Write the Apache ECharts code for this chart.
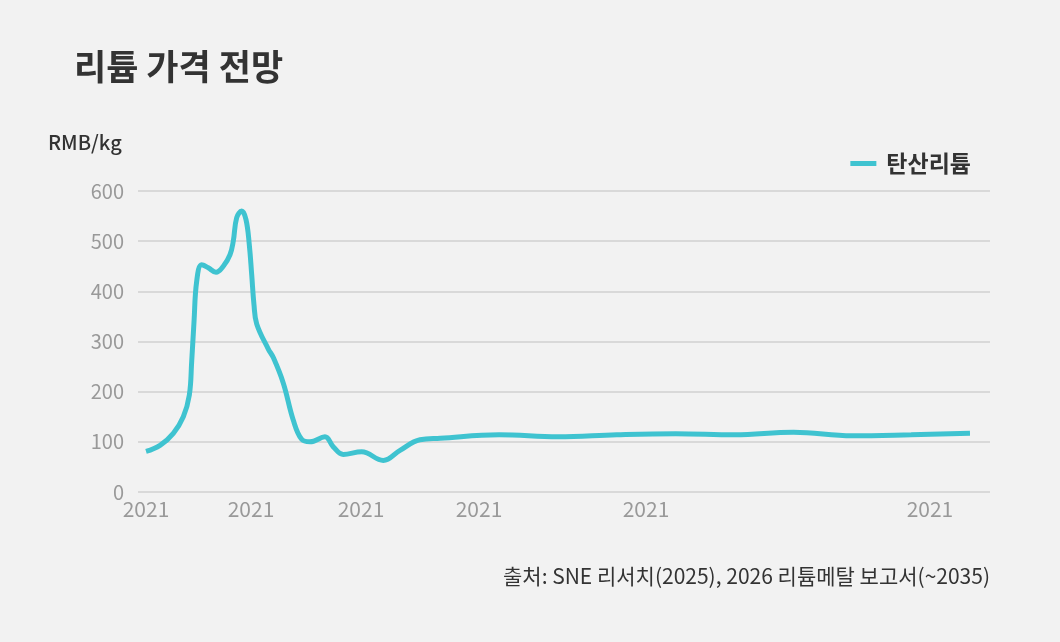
<!DOCTYPE html>
<html>
<head>
<meta charset="utf-8">
<script src="https://cdn.jsdelivr.net/npm/echarts@6/dist/echarts.min.js"></script>
<style>
  html, body { margin: 0; padding: 0; background: #f2f2f2; }
  #chart { width: 1060px; height: 642px; }
</style>
</head>
<body>
<div id="chart"></div>
<script>
// 연도(소수) 기준 x 값
const years = [
  2021.0, 2021.238, 2021.464, 2021.634, 2021.736, 2021.776, 2021.816, 2021.861,
  2021.946, 2022.058, 2022.189, 2022.313, 2022.427, 2022.483, 2022.541, 2022.626,
  2022.699, 2022.755, 2022.796, 2022.835, 2022.881, 2023.078, 2023.163, 2023.333,
  2023.503, 2023.645, 2023.786, 2024.041, 2024.182, 2024.352, 2024.665, 2025.032,
  2025.316, 2025.655, 2026.0, 2027.0, 2028.0, 2029.0, 2030.0, 2031.0,
  2032.0, 2033.0, 2034.0, 2035.0
];
const lithiumCarbonate = [
  81, 93, 117, 150, 193, 260, 340, 420,
  453, 447, 438, 450, 473, 500, 547, 560,
  543, 493, 433, 373, 335, 285, 268, 217,
  143, 105, 100, 110, 90, 75, 80, 63,
  83, 104, 107, 114, 110, 114, 116, 114,
  119, 112, 114, 117
];
// x축 라벨 위치 (원본은 모두 2021로 표시됨)
const xTickPositions = [2021, 2022.784, 2024.653, 2026.658, 2029.495, 2034.32];
const xTickLabel = '2021';

const FONT = '"Noto Sans CJK KR", "Noto Sans", sans-serif';
const chart = echarts.init(document.getElementById('chart'));

chart.setOption({
  backgroundColor: '#f2f2f2',
  textStyle: { fontFamily: FONT },
  title: {
    text: '리튬 가격 전망',
    left: 69,
    top: 44,
    textStyle: { fontFamily: FONT, fontSize: 35, fontWeight: 'bold', color: '#333' }
  },
  graphic: [
    {
      type: 'text',
      left: 48,
      top: 132,
      style: { text: 'RMB/kg', font: '500 20px ' + FONT, fill: '#333' }
    },
    {
      type: 'text',
      right: 70,
      top: 566,
      style: { text: '출처: SNE 리서치(2025), 2026 리튬메탈 보고서(~2035)', font: '21px ' + FONT, fill: '#333' }
    }
  ],
  legend: {
    right: 84,
    top: 147,
    icon: 'rect',
    itemWidth: 26,
    itemHeight: 5,
    textStyle: { fontFamily: FONT, fontSize: 23, fontWeight: 'bold', color: '#333', padding: [0, 0, 0, 5] },
    data: ['탄산리튬']
  },
  grid: { left: 138, right: 70, top: 191, bottom: 150 },
  xAxis: {
    type: 'value',
    min: 2020.864,
    max: 2035.34,
    axisLine: { show: false },
    axisTick: { show: false },
    splitLine: { show: false },
    axisLabel: {
      customValues: xTickPositions,
      formatter: () => xTickLabel,
      color: '#999',
      fontSize: 21,
      margin: 7,
      fontFamily: FONT
    }
  },
  yAxis: {
    type: 'value',
    min: 0,
    max: 600,
    interval: 100,
    axisLine: { show: false },
    axisTick: { show: false },
    axisLabel: { color: '#999', fontSize: 20, margin: 14, fontFamily: FONT },
    splitLine: { lineStyle: { color: '#d9d9d9', width: 2 } }
  },
  series: [
    {
      name: '탄산리튬',
      type: 'line',
      data: years.map((y, i) => [y, lithiumCarbonate[i]]),
      smooth: 0.4,
      showSymbol: false,
      color: '#3fc3d0',
      lineStyle: { width: 5, color: '#3fc3d0' }
    }
  ]
});
</script>
</body>
</html>
